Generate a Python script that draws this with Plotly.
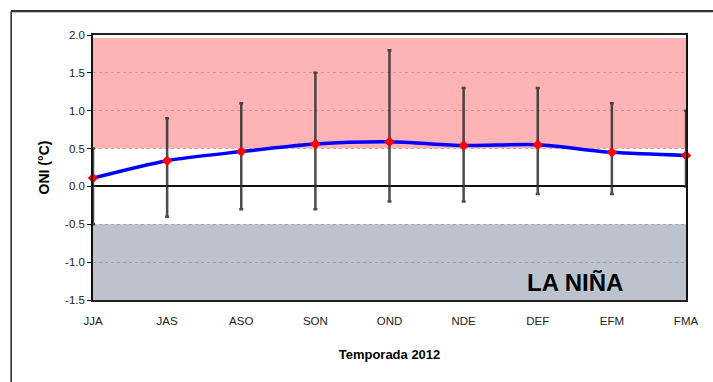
import plotly.graph_objects as go

seasons = ["JJA", "JAS", "ASO", "SON", "OND", "NDE", "DEF", "EFM", "FMA"]
oni = [0.11, 0.34, 0.46, 0.56, 0.59, 0.54, 0.55, 0.45, 0.41]
upper = [0.5, 0.9, 1.1, 1.5, 1.8, 1.3, 1.3, 1.1, 1.0]
lower = [-0.5, -0.4, -0.3, -0.3, -0.2, -0.2, -0.1, -0.1, 0.0]
y_ticks = [2.0, 1.5, 1.0, 0.5, 0.0, -0.5, -1.0, -1.5]
nino_band = [0.5, 1.96]
nina_band = [-1.5, -0.5]

xs = list(range(len(seasons)))
err_plus = [u - v for u, v in zip(upper, oni)]
err_minus = [v - l for v, l in zip(oni, lower)]

font = "Arial, Liberation Sans, sans-serif"
fig = go.Figure()

fig.add_trace(go.Scatter(
    x=xs, y=oni, mode="markers", marker=dict(size=1, opacity=0), cliponaxis=False,
    error_y=dict(type="data", symmetric=False, array=err_plus, arrayminus=err_minus,
                 color="rgba(45,45,45,0.85)", thickness=2.5, width=2),
    hoverinfo="skip", showlegend=False))
fig.add_trace(go.Scatter(
    x=xs, y=oni, mode="lines", line=dict(color="#0000FF", width=3.5, shape="spline", smoothing=0.8),
    showlegend=False))
fig.add_trace(go.Scatter(
    x=xs, y=oni, mode="markers", marker=dict(symbol="diamond", color="#FF0000", size=8),
    cliponaxis=False, showlegend=False))

fig.add_shape(type="rect", xref="x", yref="y", x0=0, x1=len(seasons) - 1,
              y0=nino_band[0], y1=nino_band[1], fillcolor="#FFB3B5", line_width=0, layer="below")
fig.add_shape(type="rect", xref="x", yref="y", x0=0, x1=len(seasons) - 1,
              y0=nina_band[0], y1=nina_band[1], fillcolor="#BDC3CD", line_width=0, layer="below")

# outer frame (top and left edges visible)
fig.add_shape(type="line", xref="paper", yref="paper", x0=-0.138, x1=1.045, y0=1.09, y1=1.09,
              line=dict(color="#222222", width=2))
fig.add_shape(type="line", xref="paper", yref="paper", x0=-0.138, x1=-0.138, y0=-0.5, y1=1.09,
              line=dict(color="#222222", width=1.5))

fig.add_annotation(x=6.5, y=-1.27, xref="x", yref="y", text="<b>LA NIÑA</b>", showarrow=False,
                   font=dict(family=font, size=24, color="#000000"))

fig.update_layout(
    width=713, height=382,
    margin=dict(l=93, r=27, t=35, b=82),
    paper_bgcolor="white", plot_bgcolor="white",
    font=dict(family=font, size=11.5, color="#222222"),
    xaxis=dict(range=[0, len(seasons) - 1], tickvals=xs, ticktext=seasons, showgrid=False,
               zeroline=False, showline=True, linecolor="#222222", linewidth=1.5, mirror=True,
               ticks="", ticklabelstandoff=9,
               title=dict(text="<b>Temporada 2012</b>", font=dict(size=13, color="#000"), standoff=24)),
    yaxis=dict(range=[-1.5, 2.0], tickvals=y_ticks, ticktext=[f"{v:.1f}" for v in y_ticks],
               showgrid=True, gridcolor="rgba(120,120,120,0.45)", griddash="dot", gridwidth=1,
               zeroline=True, zerolinecolor="#111111", zerolinewidth=1.5,
               showline=True, linecolor="#111111", linewidth=1.5, mirror=True,
               ticks="outside", ticklen=4, tickcolor="#111111",
               title=dict(text="<b>ONI (°C)</b>", font=dict(size=14, color="#000"), standoff=12)),
)

post = (
    "document.body.style.margin='0';"
    "var d=document.createElement('div');"
    "d.style.cssText='position:absolute;left:11px;top:10px;width:702px;height:0;"
    "border-top:2px solid #333;pointer-events:none;';"
    "document.body.appendChild(d);"
)
fig.write_html("out.html", config={"displayModeBar": False}, post_script=post)
